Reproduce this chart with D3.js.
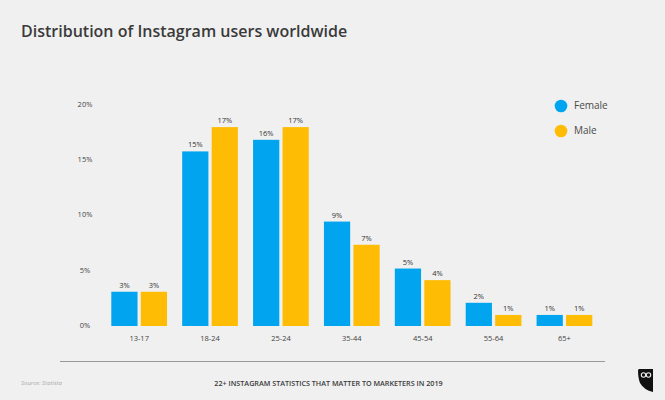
<!DOCTYPE html>
<html>
<head>
<meta charset="utf-8">
<script src="https://d3js.org/d3.v7.min.js"></script>
<style>
    html, body { margin: 0; padding: 0; background: #f0f0f0; }
    svg { display: block; font-family: "Open Sans", sans-serif; }
    .axis path, .axis line { display: none; }
</style>
</head>
<body>
<div id="chart"></div>
<script>
// values
var categories = ["13-17", "18-24", "25-24", "35-44", "45-54", "55-64", "65+"];
var female = [3.1, 15.8, 16.85, 9.45, 5.2, 2.1, 1.0];
var male = [3.1, 18.0, 18.0, 7.35, 4.15, 1.0, 1.0];
// the printed labels do not always agree with the bar heights
var female_labels = ["3%", "15%", "16%", "9%", "5%", "2%", "1%"];
var male_labels = ["3%", "17%", "17%", "7%", "4%", "1%", "1%"];
var y_ticks = [0, 5, 10, 15, 20];
var series_names = ["Female", "Male"];
var series_colors = ["#00a4ef", "#ffbc05"];

var svg = d3.select("#chart").append("svg")
    .attr("width", 665)
    .attr("height", 400);

svg.append("rect")
    .attr("width", 665)
    .attr("height", 400)
    .attr("fill", "#f0f0f0");

svg.append("text")
    .attr("x", 21)
    .attr("y", 37)
    .attr("font-size", 16)
    .attr("font-weight", 600)
    .attr("fill", "#3a3a3a")
    .text("Distribution of Instagram users worldwide");

var x = d3.scaleBand()
    .domain(categories)
    .range([111.3, 592.3])
    .paddingInner(0.214)
    .paddingOuter(0);

var x_inner = d3.scaleBand()
    .domain(series_names)
    .range([0, x.bandwidth()])
    .paddingInner(0.11)
    .paddingOuter(0);

var y = d3.scaleLinear()
    .domain([0, 20])
    .range([326, 105]);

var y_axis = svg.append("g")
    .attr("class", "axis")
    .attr("transform", "translate(90,-1)")
    .call(d3.axisLeft(y).tickValues(y_ticks).tickSize(0).tickPadding(0).tickFormat(function (d) { return d + "%"; }));

y_axis.selectAll("text")
    .attr("text-anchor", "middle")
    .attr("x", -5)
    .attr("dy", "0.3em")
    .attr("font-size", 7.5)
    .attr("font-family", "Open Sans")
    .attr("fill", "#444");

var x_axis = svg.append("g")
    .attr("class", "axis")
    .attr("transform", "translate(0,336)")
    .call(d3.axisBottom(x).tickSize(0).tickPadding(0));

x_axis.selectAll("text")
    .attr("font-size", 7.5)
    .attr("font-family", "Open Sans")
    .attr("fill", "#444");

var series = [
    { name: series_names[0], color: series_colors[0], values: female, labels: female_labels },
    { name: series_names[1], color: series_colors[1], values: male, labels: male_labels }
];

series.forEach(function (s) {

    var g = svg.append("g");

    g.selectAll("rect")
        .data(s.values)
        .enter().append("rect")
            .attr("x", function (d, i) { return x(categories[i]) + x_inner(s.name); })
            .attr("y", function (d) { return y(d); })
            .attr("width", x_inner.bandwidth())
            .attr("height", function (d) { return y(0) - y(d); })
            .attr("fill", s.color);

    g.selectAll("text")
        .data(s.values)
        .enter().append("text")
            .attr("x", function (d, i) { return x(categories[i]) + x_inner(s.name) + x_inner.bandwidth() / 2; })
            .attr("y", function (d) { return y(d) - 4; })
            .attr("text-anchor", "middle")
            .attr("font-size", 7.5)
            .attr("fill", "#333")
            .text(function (d, i) { return s.labels[i]; });
});

// legend
var legend = svg.selectAll(".legend")
    .data(series_names)
    .enter().append("g")
        .attr("class", "legend")
        .attr("transform", function (d, i) { return "translate(561," + (106 + i * 25) + ")"; });

legend.append("circle")
    .attr("r", 6.3)
    .attr("fill", function (d, i) { return series_colors[i]; });

legend.append("text")
    .attr("x", 13)
    .attr("y", 3)
    .attr("font-size", 10)
    .attr("fill", "#4a4a4a")
    .text(function (d) { return d; });

// footer
svg.append("line")
    .attr("x1", 60)
    .attr("x2", 605)
    .attr("y1", 361.5)
    .attr("y2", 361.5)
    .attr("stroke", "#999")
    .attr("stroke-width", 1);

svg.append("text")
    .attr("x", 21)
    .attr("y", 385)
    .attr("font-size", 6)
    .attr("font-style", "italic")
    .attr("fill", "#aaa")
    .text("Source: Statista");

svg.append("text")
    .attr("x", 328.5)
    .attr("y", 386)
    .attr("text-anchor", "middle")
    .attr("font-size", 7.2)
    .attr("font-weight", 600)
    .attr("fill", "#3a3a3a")
    .text("22+ INSTAGRAM STATISTICS THAT MATTER TO MARKETERS IN 2019");

// owl logo
var owl = svg.append("g").attr("transform", "translate(638,369)");

owl.append("path")
    .attr("d", "M1,0 H15 V23 Q6,21 2,14 Q0,9 0,1 Z")
    .attr("fill", "#111");

owl.append("circle").attr("cx", 5.5).attr("cy", 6).attr("r", 2.2).attr("fill", "none").attr("stroke", "#eee").attr("stroke-width", 1.1);
owl.append("circle").attr("cx", 10.5).attr("cy", 6).attr("r", 2.2).attr("fill", "none").attr("stroke", "#eee").attr("stroke-width", 1.1);
</script>
</body>
</html>
